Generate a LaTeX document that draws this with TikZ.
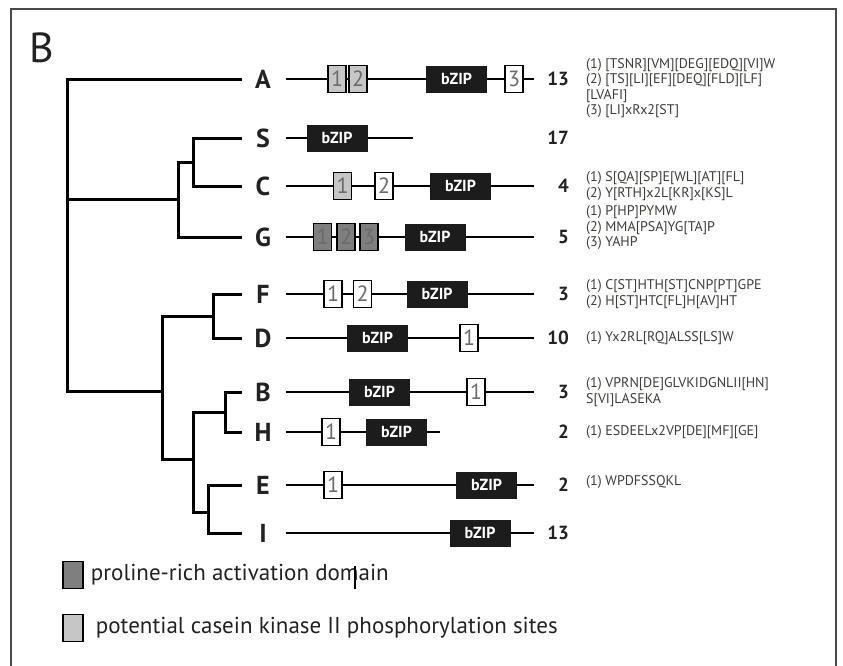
\documentclass[tikz,border=0pt]{standalone}
\usepackage{fontspec}
\setmainfont{PT Sans}
\usepackage{tikz}
\usetikzlibrary{positioning}
\definecolor{prolinGri}{HTML}{7F7F7F}
\definecolor{kazeinGri}{HTML}{C6C6C6}
\definecolor{bzipSiyah}{HTML}{1C1C1C}
\definecolor{yaziSiyah}{HTML}{222222}
\definecolor{motifGri}{HTML}{3C4038}
\definecolor{kutuYazi}{HTML}{6A6A6A}
\definecolor{cerceveGri}{HTML}{4A4A4A}

\begin{document}
\begin{tikzpicture}[x=1pt,y=-1pt,
  dal/.style={line width=3pt,line cap=rect},
  protein/.style={line width=2.8pt},
  yaprak/.style={font=\fontsize{26}{26}\selectfont\bfseries,text=yaziSiyah,minimum width=45pt,inner sep=0pt},
  bzip/.style={fill=bzipSiyah,text=white,font=\fontsize{16}{16}\selectfont\bfseries,minimum width=61pt,minimum height=27pt,inner sep=0pt},
  kutu/.style={draw=black,line width=1.3pt,minimum width=18pt,minimum height=27pt,inner sep=0pt,font=\fontsize{22}{22}\selectfont,text=kutuYazi},
  acikKutu/.style={kutu,fill=kazeinGri},
  koyuKutu/.style={kutu,fill=prolinGri},
  bosKutu/.style={kutu,fill=white},
  sayi/.style={anchor=east,inner sep=0pt,font=\fontsize{19}{19}\selectfont\bfseries,text=yaziSiyah},
  motif/.style={anchor=west,align=left,inner sep=0pt,font=\fontsize{14}{15.5}\selectfont,text=motifGri},
  lejantKutu/.style={draw=black,line width=1.5pt,minimum width=20pt,minimum height=27pt,inner sep=0pt},
  lejant/.style={inner sep=0pt,font=\fontsize{23}{23}\selectfont,text=yaziSiyah}]
\useasboundingbox (0,0) rectangle (843,665);
\draw[cerceveGri,line width=1.2pt] (11,9) rectangle (836,670);
\node[font=\fontsize{42}{42}\selectfont,text=yaziSiyah] (baslik) at (41.5,47.5) {B};

% yapraklar
\node[yaprak] (A) at (263,79) {A};
\node[yaprak] (S) at (263,138) {S};
\node[yaprak] (C) at (263,186) {C};
\node[yaprak] (G) at (263,237) {G};
\node[yaprak] (F) at (263,294) {F};
\node[yaprak] (D) at (263,338) {D};
\node[yaprak] (B) at (263,392) {B};
\node[yaprak] (H) at (263,432) {H};
\node[yaprak] (E) at (263,485) {E};
\node[yaprak] (I) at (263,533) {I};

% ic dugumler
\coordinate (kok) at (67,199);
\coordinate (kSCG) at (178,199);
\coordinate (kSC) at (193,162);
\coordinate (kAlt) at (162,391);
\coordinate (kFD) at (213,316);
\coordinate (kBHEI) at (193,459);
\coordinate (kBH) at (225,412);
\coordinate (kEI) at (208,512);

% dallar
\draw[dal] (kok) |- (A.west);
\draw[dal] (kok) -- (kSCG);
\draw[dal] (kok) |- (kAlt);
\draw[dal] (kSCG) |- (kSC);
\draw[dal] (kSCG) |- (G.west);
\draw[dal] (kSC) |- (S.west);
\draw[dal] (kSC) |- (C.west);
\draw[dal] (kAlt) |- (kFD);
\draw[dal] (kAlt) |- (kBHEI);
\draw[dal] (kFD) |- (F.west);
\draw[dal] (kFD) |- (D.west);
\draw[dal] (kBHEI) |- (kBH);
\draw[dal] (kBHEI) |- (kEI);
\draw[dal] (kBH) |- (B.west);
\draw[dal] (kBH) |- (H.west);
\draw[dal] (kEI) |- (E.west);
\draw[dal] (kEI) |- (I.west);

% proteinler
\coordinate (A-son) at (534,79);
\draw[protein] (A.east) -- (A-son);
\node[acikKutu] (A-1) at (337,79) {1};
\node[acikKutu] (A-2) at (358,79) {2};
\node[bzip] (A-bz) at (456.5,79) {bZIP};
\node[bosKutu] (A-3) at (514,79) {3};
\node[sayi] (A-n) at (569,79) {13};

\coordinate (S-son) at (413,138);
\draw[protein] (S.east) -- (S-son);
\node[bzip] (S-bz) at (337,138) {bZIP};
\node[sayi] (S-n) at (569,138) {17};

\coordinate (C-son) at (534,186);
\draw[protein] (C.east) -- (C-son);
\node[acikKutu] (C-1) at (342.5,186) {1};
\node[bosKutu] (C-2) at (384,186) {2};
\node[bzip] (C-bz) at (460.5,186) {bZIP};
\node[sayi] (C-n) at (569,186) {4};

\coordinate (G-son) at (534,237);
\draw[protein] (G.east) -- (G-son);
\node[koyuKutu] (G-1) at (322.5,237) {1};
\node[koyuKutu] (G-2) at (346,237) {2};
\node[koyuKutu] (G-3) at (369,237) {3};
\node[bzip] (G-bz) at (435,237) {bZIP};
\node[sayi] (G-n) at (569,237) {5};

\coordinate (F-son) at (534,294);
\draw[protein] (F.east) -- (F-son);
\node[bosKutu] (F-1) at (333,294) {1};
\node[bosKutu] (F-2) at (362.5,294) {2};
\node[bzip] (F-bz) at (437,294) {bZIP};
\node[sayi] (F-n) at (569,294) {3};

\coordinate (D-son) at (534,338);
\draw[protein] (D.east) -- (D-son);
\node[bzip] (D-bz) at (377.5,338) {bZIP};
\node[bosKutu] (D-1) at (469,338) {1};
\node[sayi] (D-n) at (569,338) {10};

\coordinate (B-son) at (534,392);
\draw[protein] (B.east) -- (B-son);
\node[bzip] (B-bz) at (379.5,392) {bZIP};
\node[bosKutu] (B-1) at (476,392) {1};
\node[sayi] (B-n) at (569,392) {3};

\coordinate (H-son) at (440,432);
\draw[protein] (H.east) -- (H-son);
\node[bosKutu] (H-1) at (331,432) {1};
\node[bzip] (H-bz) at (396.5,432) {bZIP};
\node[sayi] (H-n) at (569,432) {2};

\coordinate (E-son) at (534,485);
\draw[protein] (E.east) -- (E-son);
\node[bosKutu] (E-1) at (333,485) {1};
\node[bzip] (E-bz) at (486.5,485) {bZIP};
\node[sayi] (E-n) at (569,485) {2};

\coordinate (I-son) at (534,533);
\draw[protein] (I.east) -- (I-son);
\node[bzip] (I-bz) at (480,533) {bZIP};
\node[sayi] (I-n) at (569,533) {13};

% motifler
\node[motif] (A-m) at (586,88) {(1) [TSNR][VM][DEG][EDQ][VI]W\\(2) [TS][LI][EF][DEQ][FLD][LF]\\{}[LVAFI]\\(3) [LI]xRx2[ST]};
\node[motif] (C-m) at (586,186) {(1) S[QA][SP]E[WL][AT][FL]\\(2) Y[RTH]x2L[KR]x[KS]L};
\node[motif] (G-m) at (586,228) {(1) P[HP]PYMW\\(2) MMA[PSA]YG[TA]P\\(3) YAHP};
\node[motif] (F-m) at (586,294) {(1) C[ST]HTH[ST]CNP[PT]GPE\\(2) H[ST]HTC[FL]H[AV]HT};
\node[motif] (D-m) at (586,338) {(1) Yx2RL[RQ]ALSS[LS]W};
\node[motif] (B-m) at (586,392) {(1) VPRN[DE]GLVKIDGNLII[HN]\\S[VI]LASEKA};
\node[motif] (H-m) at (586,432) {(1) ESDEELx2VP[DE][MF][GE]};
\node[motif] (E-m) at (586,482) {(1) WPDFSSQKL};

% lejant
\node[lejantKutu,fill=prolinGri] (L1) at (73,575) {};
\node[lejant,right=7pt of L1] (L1-yazi) {proline-rich activation domain};
\node[lejantKutu,fill=kazeinGri] (L2) at (73,628) {};
\node[lejant,right=12pt of L2] (L2-yazi) {potential casein kinase II phosphorylation sites};
\draw[line width=1.2pt] (355,566) -- (355,589);
\end{tikzpicture}
\end{document}
